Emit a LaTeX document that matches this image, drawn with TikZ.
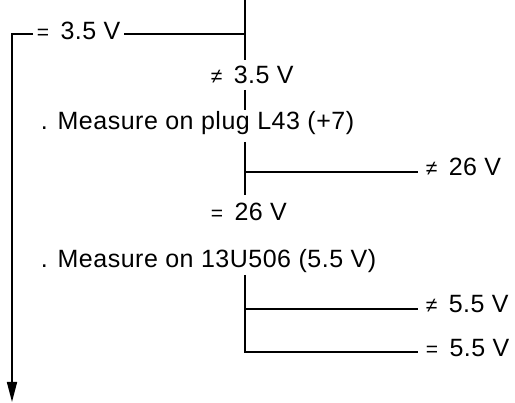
\documentclass[tikz,border=0pt]{standalone}
\usepackage{fontspec}
\setmainfont{Liberation Sans}[LetterSpace=2]
\usetikzlibrary{arrows.meta,positioning,calc}
\newcommand{\neqsym}{{\fontsize{21pt}{21pt}\selectfont ≠}\hspace{4pt}}
\newcommand{\eqsym}{{\fontsize{21pt}{21pt}\selectfont =}\hspace{4pt}}

\begin{document}
\begin{tikzpicture}[x=1pt,y=-1pt,font=\fontsize{25pt}{29pt}\selectfont,>={Triangle[length=20pt,width=10pt]},line width=1.6pt]
  \tikzset{checktext/.style={anchor=base west,inner sep=0pt},
    result/.style={anchor=base west,inner sep=0pt}}
  \useasboundingbox (0,0) rectangle (515,403);

  % texts
  \node[checktext] (eq35) at (36,40) {\eqsym\ 3.5 V};
  \node[checktext] (ne35) at (210,84) {\neqsym\ 3.5 V};
  \node[checktext] (plug) at (40,130) {. Measure on plug L43 (+7)};
  \node[result] (ne26) at (425,176) {\neqsym\ 26 V};
  \node[checktext] (eq26) at (210,221) {\eqsym\ 26 V};
  \node[checktext] (chip) at (40,268) {. Measure on 13U506 (5.5 V)};
  \node[result] (ne55) at (425,313) {\neqsym\ 5.5 V};
  \node[result] (eq55) at (425,357) {\eqsym\ 5.5 V};

  % trunk points
  \coordinate (top) at (245,0);
  \coordinate (j35) at (245,34);
  \coordinate (s1end) at (245,60);
  \coordinate (s2top) at (245,90);
  \coordinate (s2end) at (245,110);
  \coordinate (s3top) at (245,142);
  \coordinate (j26) at (245,172);
  \coordinate (s3end) at (245,195);
  \coordinate (s4top) at (245,275);
  \coordinate (j55) at (245,309);
  \coordinate (k55) at (245,352);
  \coordinate (corner) at (12,34);
  \coordinate (exit) at (12,402);

  \draw (top) -- (s1end);
  \draw (j35) -- ([xshift=3pt]eq35.east |- j35);
  \draw[->] ([xshift=-3pt]eq35.west |- j35) -- (corner) -- (exit);
  \draw (s2top) -- (s2end);
  \draw (s3top) -- (s3end);
  \draw (j26) -- ([xshift=-7pt]ne26.west |- j26);
  \draw (s4top) -- (k55) -- ([xshift=-7pt]eq55.west |- k55);
  \draw (j55) -- ([xshift=-7pt]ne55.west |- j55);
\end{tikzpicture}
\end{document}
